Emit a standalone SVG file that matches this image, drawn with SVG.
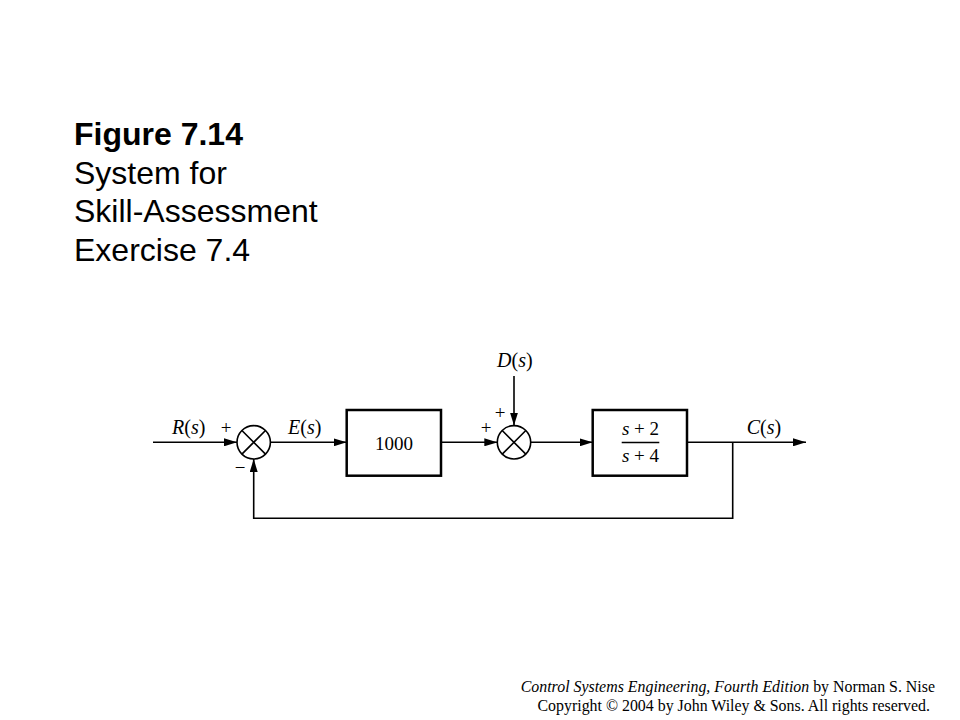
<svg xmlns="http://www.w3.org/2000/svg" width="960" height="720" viewBox="0 0 960 720">
<defs>
<marker id="arr" viewBox="0 0 13 8" refX="13" refY="4" markerWidth="13" markerHeight="8" markerUnits="userSpaceOnUse" orient="auto">
<path d="M0,0 L13,4 L0,8 Z" fill="#000"/>
</marker>
<style>
.title{font-family:"Liberation Sans",Arial,sans-serif;font-size:32px;fill:#000}
.lbl{font-family:"Liberation Serif","Times New Roman",serif;font-size:20px;fill:#000}
.num{font-family:"Liberation Serif","Times New Roman",serif;font-size:19px;fill:#000}
.sign{font-family:"Liberation Serif","Times New Roman",serif;font-size:19px;fill:#000}
.foot{font-family:"Liberation Serif","Times New Roman",serif;font-size:15.9px;fill:#000}
.blk{fill:#fff;stroke:#000;stroke-width:2.5}
.sum{fill:#fff;stroke:#000;stroke-width:1.6}
.wire{fill:none;stroke:#000;stroke-width:1.6}
</style>
</defs>
<rect width="960" height="720" fill="#fff"/>
<g id="title">
<text class="title" x="74" y="145" font-weight="bold">Figure 7.14</text>
<text class="title" x="74" y="183.5">System for</text>
<text class="title" x="74" y="222">Skill-Assessment</text>
<text class="title" x="74" y="260.5">Exercise 7.4</text>
</g>
<g id="connectors">
<line class="wire" x1="153" y1="442.3" x2="237" y2="442.3" marker-end="url(#arr)"/>
<line class="wire" x1="270.4" y1="442.3" x2="346.7" y2="442.3" marker-end="url(#arr)"/>
<line class="wire" x1="441" y1="442.3" x2="497.3" y2="442.3" marker-end="url(#arr)"/>
<line class="wire" x1="514" y1="376" x2="514" y2="425.6" marker-end="url(#arr)"/>
<line class="wire" x1="530.7" y1="442.3" x2="592.7" y2="442.3" marker-end="url(#arr)"/>
<line class="wire" x1="687" y1="442.3" x2="806" y2="442.3" marker-end="url(#arr)"/>
<polyline class="wire" points="732.7,442.3 732.7,518.3 253.7,518.3 253.7,459" marker-end="url(#arr)"/>
</g>
<g id="sum1">
<circle class="sum" cx="253.7" cy="442.3" r="16.7"/>
<path class="wire" d="M241.9,430.5 L265.5,454.1 M265.5,430.5 L241.9,454.1"/>
</g>
<g id="block1000">
<rect class="blk" x="346.7" y="410" width="94.3" height="65.7"/>
<text class="num" x="394" y="449.5" text-anchor="middle">1000</text>
</g>
<g id="sum2">
<circle class="sum" cx="514" cy="442.3" r="16.7"/>
<path class="wire" d="M502.2,430.5 L525.8,454.1 M525.8,430.5 L502.2,454.1"/>
</g>
<g id="plant">
<rect class="blk" x="592.7" y="410" width="94.3" height="65.7"/>
<text class="num" x="640.5" y="435" text-anchor="middle"><tspan font-style="italic">s</tspan> + 2</text>
<line x1="621.7" y1="442.5" x2="659.3" y2="442.5" stroke="#000" stroke-width="1.4"/>
<text class="num" x="640.5" y="461.5" text-anchor="middle"><tspan font-style="italic">s</tspan> + 4</text>
</g>
<g id="labels">
<text class="lbl" x="172" y="434"><tspan font-style="italic">R</tspan>(<tspan font-style="italic">s</tspan>)</text>
<text class="sign" x="226" y="434" text-anchor="middle">+</text>
<text class="sign" x="240" y="474" text-anchor="middle">−</text>
<text class="lbl" x="288" y="434"><tspan font-style="italic">E</tspan>(<tspan font-style="italic">s</tspan>)</text>
<text class="lbl" x="497" y="367"><tspan font-style="italic">D</tspan>(<tspan font-style="italic">s</tspan>)</text>
<text class="sign" x="500" y="419" text-anchor="middle">+</text>
<text class="sign" x="486" y="434" text-anchor="middle">+</text>
<text class="lbl" x="746.7" y="434"><tspan font-style="italic">C</tspan>(<tspan font-style="italic">s</tspan>)</text>
</g>
<g id="footer">
<text class="foot" x="935" y="691.5" text-anchor="end"><tspan font-style="italic">Control Systems Engineering, Fourth Edition</tspan> by Norman S. Nise</text>
<text class="foot" x="930" y="711" text-anchor="end">Copyright © 2004 by John Wiley  &amp; Sons. All rights reserved.</text>
</g>
</svg>
